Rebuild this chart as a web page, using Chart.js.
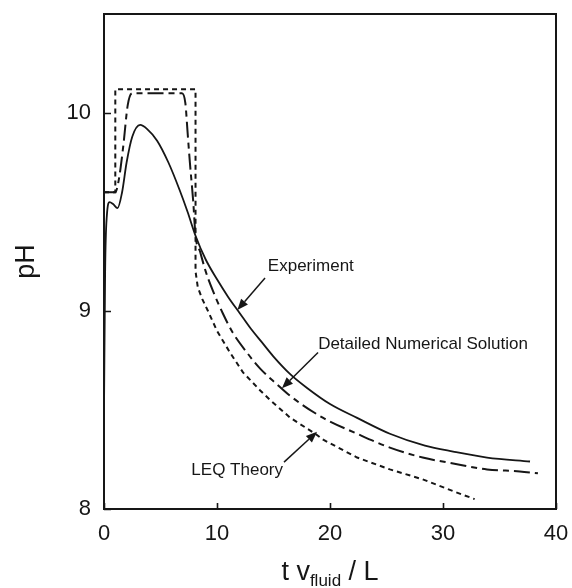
<!DOCTYPE html>
<html>
<head>
<meta charset="utf-8">
<script src="https://cdn.jsdelivr.net/npm/chart.js@4.4.1/dist/chart.umd.min.js"></script>
<style>
  body { margin: 0; background: #fff; }
  #wrap { width: 572px; height: 588px; }
</style>
</head>
<body>
<div id="wrap"><canvas id="phChart"></canvas></div>
<script>
/*** Data ***/
const xTicks = [0, 10, 20, 30, 40];
const yTicks = [8, 9, 10];

// Experiment (solid line)
const expX  = [0, 0.1, 0.25, 0.5, 0.8, 1.2, 1.6, 2.0, 2.5, 3.2, 3.8, 4.7, 5.7, 6.7, 7.4, 8.1, 9.0, 10.0, 11.0, 12.0, 13.0, 14.0, 15.0, 16.5, 18.0, 20.0, 22.4, 25.3, 28.4, 30.9, 33.9, 37.7];
const expPH = [8.5, 9.2, 9.48, 9.55, 9.54, 9.52, 9.6, 9.75, 9.88, 9.94, 9.92, 9.86, 9.75, 9.61, 9.5, 9.38, 9.26, 9.16, 9.07, 8.99, 8.91, 8.84, 8.77, 8.68, 8.61, 8.53, 8.46, 8.38, 8.32, 8.29, 8.26, 8.24];

// Detailed numerical solution (long dashes)
const numX  = [0, 1.0, 1.3, 1.7, 2.1, 2.5, 6.9, 7.2, 7.4, 7.6, 7.9, 8.1, 8.5, 9.0, 9.65, 10.5, 11.4, 12.65, 13.8, 15.3, 16.5, 19.4, 22.4, 25.3, 28.2, 30.9, 33.9, 36.8, 38.4];
const numPH = [9.6, 9.6, 9.66, 9.83, 10.04, 10.1, 10.1, 10.05, 9.9, 9.75, 9.55, 9.38, 9.3, 9.2, 9.1, 8.99, 8.89, 8.79, 8.71, 8.63, 8.57, 8.46, 8.38, 8.31, 8.26, 8.23, 8.2, 8.19, 8.18];

// LEQ theory (short dashes)
const leqX  = [0, 1.0, 1.0, 8.1, 8.1, 8.3, 8.7, 9.2, 10.0, 11.15, 12.3, 13.8, 14.7, 16.5, 18.7, 19.4, 22.4, 25.3, 28.2, 30.9, 32.8];
const leqPH = [9.6, 9.6, 10.12, 10.12, 9.2, 9.12, 9.06, 9.0, 8.9, 8.79, 8.69, 8.6, 8.55, 8.46, 8.38, 8.35, 8.26, 8.2, 8.15, 8.09, 8.05];

const seriesNames = ["Experiment", "Detailed Numerical Solution", "LEQ Theory"];

/*** Callout labels with arrows (data coordinates) ***/
const callouts = [
    { text: seriesNames[0], at: [14.5, 9.227], align: "left",  tail: [14.25, 9.167], tip: [11.8, 9.005] },
    { text: seriesNames[1], at: [18.95, 8.83], align: "left",  tail: [18.94, 8.79],  tip: [15.75, 8.61] },
    { text: seriesNames[2], at: [15.84, 8.197], align: "right", tail: [15.93, 8.237], tip: [18.85, 8.39] }
];

const FONT = "'Liberation Sans', Arial, Helvetica, sans-serif";
const INK = "#161616";

function toPoints(xs, ys) {
    return xs.map((v, i) => ({ x: v, y: ys[i] }));
}

// no extra room for first/last tick labels, so the plot box sits where layout padding says
function noScalePadding(s) {
    s.paddingTop = 0;
    s.paddingBottom = 0;
    s.paddingLeft = 0;
    s.paddingRight = 0;
}

// frame, inward tick marks, axis titles
const framePlugin = {
    id: "frame",
    afterDraw(chart) {
        const { ctx, chartArea: a, scales } = chart;
        ctx.save();
        ctx.strokeStyle = INK;
        ctx.lineWidth = 2;
        ctx.strokeRect(a.left, a.top, a.right - a.left, a.bottom - a.top);

        ctx.lineWidth = 1.6;
        ctx.beginPath();
        yTicks.forEach((v) => {
            const py = Math.round(scales.y.getPixelForValue(v)) + 0.5;
            ctx.moveTo(a.left, py);
            ctx.lineTo(a.left + 7, py);
        });
        xTicks.forEach((v) => {
            const px = Math.round(scales.x.getPixelForValue(v)) + 0.5;
            ctx.moveTo(px, a.bottom);
            ctx.lineTo(px, a.bottom - 6);
        });
        ctx.stroke();

        // y title
        ctx.fillStyle = INK;
        ctx.font = "27px " + FONT;
        ctx.textAlign = "center";
        ctx.textBaseline = "middle";
        ctx.save();
        ctx.translate(27, (a.top + a.bottom) / 2);
        ctx.rotate(-Math.PI / 2);
        ctx.fillText("pH", 0, 0);
        ctx.restore();

        // x title: t v_fluid / L
        const big = "27px " + FONT, small = "17px " + FONT;
        const p1 = "t v", p2 = "fluid", p3 = " / L";
        ctx.font = big;
        const w1 = ctx.measureText(p1).width, w3 = ctx.measureText(p3).width;
        ctx.font = small;
        const w2 = ctx.measureText(p2).width;
        let cx = (a.left + a.right) / 2 - (w1 + w2 + w3) / 2;
        const base = 580;
        ctx.textAlign = "left";
        ctx.textBaseline = "alphabetic";
        ctx.font = big;
        ctx.fillText(p1, cx, base);
        cx += w1;
        ctx.font = small;
        ctx.fillText(p2, cx, base + 6);
        cx += w2;
        ctx.font = big;
        ctx.fillText(p3, cx, base);
        ctx.restore();
    }
};

const calloutPlugin = {
    id: "callouts",
    afterDatasetsDraw(chart) {
        const { ctx, scales: { x, y } } = chart;
        ctx.save();
        ctx.fillStyle = INK;
        ctx.strokeStyle = INK;
        ctx.font = "17px " + FONT;
        ctx.textBaseline = "middle";
        callouts.forEach((c) => {
            ctx.textAlign = c.align;
            ctx.fillText(c.text, x.getPixelForValue(c.at[0]), y.getPixelForValue(c.at[1]));

            const x0 = x.getPixelForValue(c.tail[0]), y0 = y.getPixelForValue(c.tail[1]);
            const x1 = x.getPixelForValue(c.tip[0]), y1 = y.getPixelForValue(c.tip[1]);
            const ang = Math.atan2(y1 - y0, x1 - x0);
            const head = 11, half = 4.5;
            const bx = x1 - head * Math.cos(ang), by = y1 - head * Math.sin(ang);
            ctx.lineWidth = 1.5;
            ctx.beginPath();
            ctx.moveTo(x0, y0);
            ctx.lineTo(bx, by);
            ctx.stroke();
            ctx.beginPath();
            ctx.moveTo(x1, y1);
            ctx.lineTo(bx + half * Math.sin(ang), by - half * Math.cos(ang));
            ctx.lineTo(bx - half * Math.sin(ang), by + half * Math.cos(ang));
            ctx.closePath();
            ctx.fill();
        });
        ctx.restore();
    }
};

function renderChart() {
    const ctx = document.getElementById("phChart").getContext("2d");
    window.phChart = new Chart(ctx, {
        type: "line",
        data: {
            datasets: [
                {
                    label: seriesNames[0],
                    data: toPoints(expX, expPH),
                    borderColor: INK,
                    borderWidth: 1.8,
                    cubicInterpolationMode: "monotone",
                    pointRadius: 0
                },
                {
                    label: seriesNames[1],
                    data: toPoints(numX, numPH),
                    borderColor: INK,
                    borderWidth: 2,
                    borderDash: [16, 5, 6, 5],
                    cubicInterpolationMode: "monotone",
                    pointRadius: 0
                },
                {
                    label: seriesNames[2],
                    data: toPoints(leqX, leqPH),
                    borderColor: INK,
                    borderWidth: 2,
                    borderDash: [5, 4],
                    tension: 0,
                    pointRadius: 0
                }
            ]
        },
        options: {
            responsive: true,
            maintainAspectRatio: false,
            animation: false,
            events: [],
            layout: { padding: { left: 0, right: 16, top: 14, bottom: 0 } },
            plugins: { legend: { display: false }, tooltip: { enabled: false } },
            scales: {
                x: {
                    type: "linear",
                    min: 0,
                    max: 40,
                    afterBuildTicks: (s) => { s.ticks = xTicks.map((v) => ({ value: v })); },
                    afterFit: (s) => { s.height = 79; noScalePadding(s); },
                    grid: { display: false, drawTicks: false },
                    border: { display: false },
                    ticks: { padding: 12, color: INK, font: { family: FONT, size: 22 }, maxRotation: 0 }
                },
                y: {
                    type: "linear",
                    min: 8,
                    max: 10.5,
                    afterBuildTicks: (s) => { s.ticks = yTicks.map((v) => ({ value: v })); },
                    afterFit: (s) => { s.width = 104; noScalePadding(s); },
                    grid: { display: false, drawTicks: false },
                    border: { display: false },
                    ticks: { padding: 13, color: INK, font: { family: FONT, size: 22 } }
                }
            }
        },
        plugins: [framePlugin, calloutPlugin]
    });
}
renderChart();
</script>
</body>
</html>
